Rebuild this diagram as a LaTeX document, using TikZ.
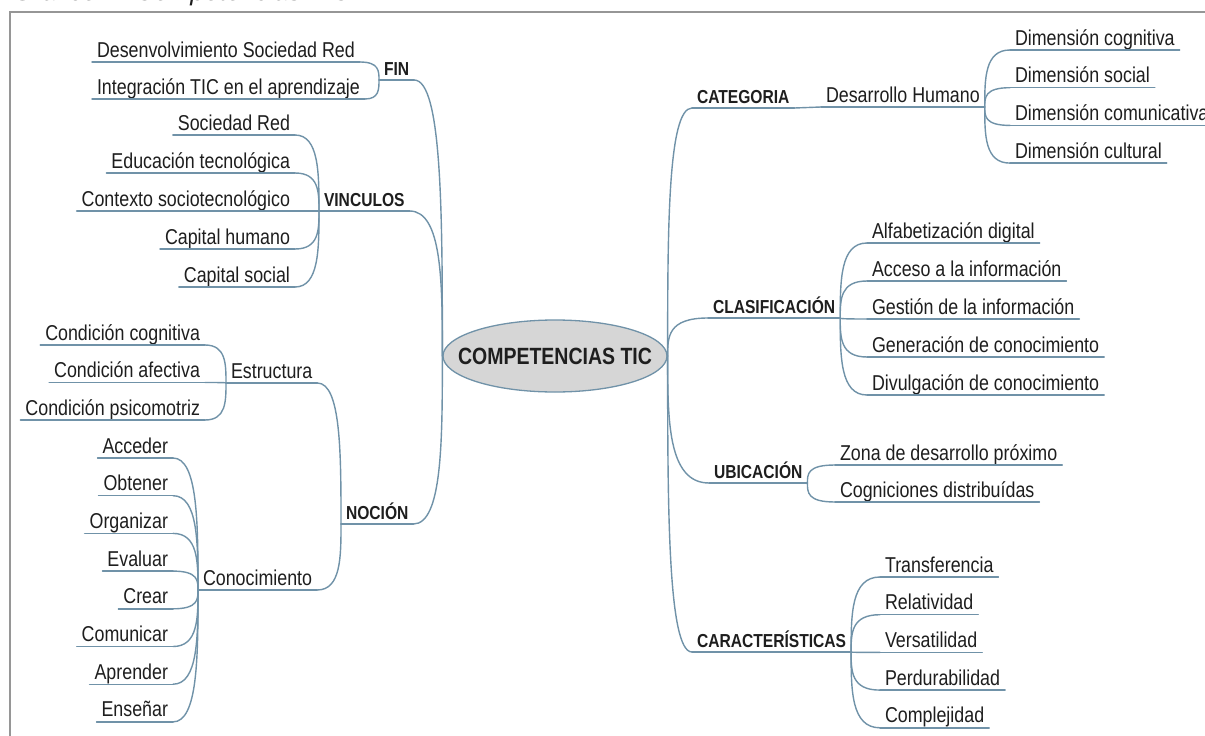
\documentclass[tikz,border=0pt]{standalone}
\usepackage{fontspec}
\newfontfamily\mapfont{Liberation Sans}[FakeStretch=0.83]
\newfontfamily\capfont{Liberation Sans}
\usetikzlibrary{shapes.geometric,calc}
\definecolor{linkc}{RGB}{112,146,168}
\definecolor{ink}{RGB}{30,30,30}
\definecolor{bubble}{RGB}{214,214,214}
\definecolor{rim}{RGB}{150,150,150}
\tikzset{
  link/.style={draw=linkc,line width=1.4pt,line cap=round},
  leaf/.style={font=\mapfont\fontsize{21.5}{25}\selectfont,text=ink,inner xsep=5pt,inner ysep=0pt,
               outer sep=0pt,text height=15pt,text depth=5pt},
  topic/.style={leaf,font=\mapfont\bfseries\fontsize{18.8}{22}\selectfont},
  fork/.style={to path={.. controls (\tikztostart -| \tikztotarget)
               and ($(\tikztotarget)!.5!(\tikztotarget |- \tikztostart)$) .. (\tikztotarget)}}
}
\begin{document}
\begin{tikzpicture}[x=1pt,y=-1pt]
  \useasboundingbox (0,0) rectangle (1205,736);
  \clip (0,0) rectangle (1205,736);
  \fill[white] (0,0) rectangle (1205,736);
  \node[font=\capfont\itshape\fontsize{26}{30}\selectfont,text=ink,anchor=base west,inner sep=0pt]
       (cap) at (13,1) {Gráfico 2. Competencias TIC};
  \draw[rim,line width=2.5pt] (1205,12) -- (10,12) -- (10,736);

  \node[ellipse,draw=linkc,fill=bubble,line width=1.3pt,minimum width=224pt,minimum height=72pt,
        inner xsep=-22pt,inner ysep=0pt,text=ink,font=\mapfont\bfseries\fontsize{23.5}{26}\selectfont]
       (tic) at (555,356) {COMPETENCIAS TIC};

  \node[topic,anchor=south west] (fin) at (379,80)  {FIN};
  \node[topic,anchor=south west] (vin) at (319,211) {VINCULOS};
  \node[topic,anchor=south west] (noc) at (341,524) {NOCIÓN};
  \node[topic,anchor=south west] (cat) at (692,108) {CATEGORIA};
  \node[topic,anchor=south west] (cla) at (708,318) {CLASIFICACIÓN};
  \node[topic,anchor=south west] (ubi) at (709,483) {UBICACIÓN};
  \node[topic,anchor=south west] (car) at (692,652) {CARACTERÍSTICAS};

  \node[leaf,anchor=south west] (est) at (226,383) {Estructura};
  \node[leaf,anchor=south west] (con) at (198,590) {Conocimiento};
  \node[leaf,anchor=south west] (dh)  at (821,107) {Desarrollo Humano};

  \foreach \n/\t [count=\i from 0] in {d1/Desenvolvimiento Sociedad Red,d2/Integración TIC en el aprendizaje}
    \node[leaf,anchor=south west] (\n) at (92,{62+37*\i}) {\t};
  \foreach \n/\t [count=\i from 0] in {v1/Sociedad Red,v2/Educación tecnológica,v3/Contexto sociotecnológico,
                                       v4/Capital humano,v5/Capital social}
    \node[leaf,anchor=south east] (\n) at (295,{135+38*\i}) {\t};
  \foreach \n/\t [count=\i from 0] in {e1/Condición cognitiva,e2/Condición afectiva,e3/Condición psicomotriz}
    \node[leaf,anchor=south east] (\n) at (205,{345+37.5*\i}) {\t};
  \foreach \n/\t [count=\i from 0] in {k1/Acceder,k2/Obtener,k3/Organizar,k4/Evaluar,
                                       k5/Crear,k6/Comunicar,k7/Aprender,k8/Enseñar}
    \node[leaf,anchor=south east] (\n) at (173,{458+37.7*\i}) {\t};
  \foreach \n/\t [count=\i from 0] in {m1/Dimensión cognitiva,m2/Dimensión social,
                                       m3/Dimensión comunicativa,m4/Dimensión cultural}
    \node[leaf,anchor=south west] (\n) at (1010,{50+37.7*\i}) {\t};
  \foreach \n/\t [count=\i from 0] in {c1/Alfabetización digital,c2/Acceso a la información,
                                       c3/Gestión de la información,c4/Generación de conocimiento,
                                       c5/Divulgación de conocimiento}
    \node[leaf,anchor=south west] (\n) at (867,{243+38*\i}) {\t};
  \foreach \n/\t [count=\i from 0] in {u1/Zona de desarrollo próximo,u2/Cogniciones distribuídas}
    \node[leaf,anchor=south west] (\n) at (835,{465+37*\i}) {\t};
  \foreach \n/\t [count=\i from 0] in {r1/Transferencia,r2/Relatividad,r3/Versatilidad,
                                       r4/Perdurabilidad,r5/Complejidad}
    \node[leaf,anchor=south west] (\n) at (880,{577+37.7*\i}) {\t};

  \foreach \n in {fin,vin,noc,cat,cla,ubi,car,est,con,dh,d1,d2,v1,v2,v3,v4,v5,e1,e2,e3,
                  k1,k2,k3,k4,k5,k6,k7,k8,m1,m2,m3,m4,c1,c2,c3,c4,c5,u1,u2,r1,r2,r3,r4,r5}
    \draw[link] (\n.south west) -- (\n.south east);

  \foreach \n in {d1,d2} \draw[link] (\n.south east) to[fork] (fin.south west);
  \foreach \n in {v1,v2,v3,v4,v5} \draw[link] (\n.south east) to[fork] (vin.south west);
  \foreach \n in {e1,e2,e3} \draw[link] (\n.south east) to[fork] (est.south west);
  \foreach \n in {k1,k2,k3,k4,k5,k6,k7,k8} \draw[link] (\n.south east) to[fork] (con.south west);
  \foreach \n in {est,con} \draw[link] (\n.south east) to[fork] (noc.south west);
  \foreach \n in {fin,vin,noc} \draw[link] (\n.south east) to[fork] (tic.west);
  \foreach \n in {cat,cla,ubi,car} \draw[link] (\n.south west) to[fork] (tic.east);
  \draw[link] (cat.south east) -- (dh.south west);
  \foreach \n in {m1,m2,m3,m4} \draw[link] (\n.south west) to[fork] (dh.south east);
  \foreach \n in {c1,c2,c3,c4,c5} \draw[link] (\n.south west) to[fork] (cla.south east);
  \foreach \n in {u1,u2} \draw[link] (\n.south west) to[fork] (ubi.south east);
  \foreach \n in {r1,r2,r3,r4,r5} \draw[link] (\n.south west) to[fork] (car.south east);
\end{tikzpicture}
\end{document}
